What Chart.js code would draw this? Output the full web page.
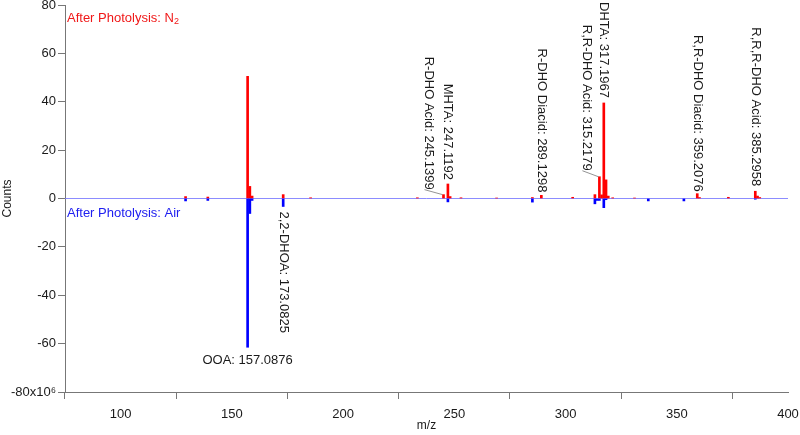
<!DOCTYPE html>
<html><head><meta charset="utf-8">
<script src="https://cdn.jsdelivr.net/npm/chart.js@4.4.0/dist/chart.umd.min.js"></script>
<style>html,body{margin:0;padding:0;background:#fff;}#wrap{width:800px;height:435px;position:relative;}</style>
</head><body><div id="wrap"><canvas id="c"></canvas></div>
<script>
// m/z positions and counts (x10^6)
const mzN2 = [129.2, 139.2, 157.09, 158.09, 159.1, 173.08, 185.4, 233.4, 245.14, 247.12, 248.12, 253.0, 269.0, 285.1, 289.13, 303.2, 313.2, 315.22, 316.2, 317.20, 318.2, 319.2, 321.2, 331.0, 359.21, 360.2, 373.2, 385.30, 386.3, 387.3];
const countsN2 = [0.8, 0.6, 50.5, 5.0, 1.0, 1.6, 0.3, 0.3, 1.6, 6.0, 0.8, 0.3, 0.2, 0.4, 1.3, 0.5, 1.6, 9.0, 1.5, 39.5, 7.7, 1.0, 0.3, 0.2, 2.0, 0.4, 0.5, 3.0, 1.0, 0.4];
const mzAir = [129.2, 139.2, 157.09, 158.09, 159.1, 173.08, 247.12, 285.1, 313.2, 314.2, 315.22, 317.20, 318.2, 337.2, 353.2, 385.3];
const countsAir = [-1.0, -0.8, -61.5, -6.2, -0.8, -3.3, -1.4, -1.5, -2.2, -0.8, -0.8, -3.8, -0.5, -1.0, -1.0, -0.3];
const seriesNames = ['After Photolysis: N', 'After Photolysis: Air'];
const xTicks = [100, 150, 200, 250, 300, 350, 400];
const yTicks = [-80, -60, -40, -20, 0, 20, 40, 60, 80];
const xRange = [75, 400];
const yRange = [-80, 80];
const peakLabels = ['R-DHO Acid: 245.1399', 'MHTA: 247.1192', 'R-DHO Diacid: 289.1298', 'R,R-DHO Acid: 315.2179', 'DHTA: 317.1967', 'R,R-DHO Diacid: 359.2076', 'R,R,R-DHO Acid: 385.2958', '2,2-DHOA: 173.0825', 'OOA: 157.0876'];
const peakLabelMz = [245.14, 247.12, 289.13, 315.22, 317.20, 359.21, 385.30, 173.08, 157.09];
const peakLabelSeries = [0, 0, 0, 0, 0, 0, 0, 1, 1];

// label layout (pixel offsets from the peak tip)
const labelLayout = [
  {mode:'up', dx:-15, dy:-5, leader:true},
  {mode:'up', dx:0, dy:-4},
  {mode:'up', dx:0, dy:-3},
  {mode:'up', dx:-13, dy:-6, leader:true},
  {mode:'up', dx:0, dy:-5},
  {mode:'up', dx:0, dy:-2},
  {mode:'up', dx:0, dy:-5},
  {mode:'down', dx:0, dy:5},
  {mode:'horiz', dx:0, dy:13}
];

const FONT = '"Liberation Sans", Arial, sans-serif';
const mk = (xs, ys) => xs.map((x, i) => ({x: x, y: ys[i]}));

const annot = {
  id: 'annot',
  afterDatasetsDraw(chart) {
    const ctx = chart.ctx, xs = chart.scales.x, ys = chart.scales.y, ca = chart.chartArea;
    ctx.save();
    ctx.font = '13px ' + FONT;
    ctx.fillStyle = '#1a1a1a';
    peakLabels.forEach((txt, i) => {
      const ser = peakLabelSeries[i];
      const xsArr = ser === 0 ? mzN2 : mzAir, ysArr = ser === 0 ? countsN2 : countsAir;
      let k = 0, best = 1e9;
      xsArr.forEach((m, j) => { const d = Math.abs(m - peakLabelMz[i]); if (d < best) { best = d; k = j; } });
      const px = xs.getPixelForValue(xsArr[k]), py = ys.getPixelForValue(ysArr[k]);
      const L = labelLayout[i];
      const tx = px + L.dx, ty = py + L.dy;
      if (L.leader) {
        ctx.save(); ctx.strokeStyle = '#777'; ctx.lineWidth = 0.8;
        ctx.beginPath(); ctx.moveTo(tx - 4, ty); ctx.lineTo(px - 1, py); ctx.stroke(); ctx.restore();
      }
      ctx.save();
      if (L.mode === 'horiz') {
        ctx.textAlign = 'center'; ctx.textBaseline = 'middle';
        ctx.fillText(txt, tx, ty);
      } else {
        ctx.translate(tx, ty); ctx.rotate(Math.PI / 2);
        ctx.textAlign = L.mode === 'up' ? 'right' : 'left'; ctx.textBaseline = 'middle';
        ctx.fillText(txt, 0, 0);
      }
      ctx.restore();
    });
    // series captions
    ctx.textAlign = 'left'; ctx.textBaseline = 'middle';
    ctx.fillStyle = '#f01818';
    ctx.font = '13px ' + FONT;
    const x0 = ca.left + 2, y1 = ca.top + 13;
    ctx.fillText(seriesNames[0], x0, y1);
    const w = ctx.measureText(seriesNames[0]).width;
    ctx.font = '9px ' + FONT;
    ctx.fillText('2', x0 + w, y1 + 4);
    ctx.font = '13px ' + FONT;
    ctx.fillStyle = '#2020f0';
    ctx.fillText(seriesNames[1], x0, ys.getPixelForValue(0) + 15);
    ctx.restore();
  }
};

new Chart(document.getElementById('c'), {
  type: 'bar',
  data: {
    datasets: [
      {type:'line', data: mk(xRange, [0, 0]), borderColor:'rgba(120,120,255,0.85)', borderWidth:1, pointRadius:0, order:3},
      {label: seriesNames[0], data: mk(mzN2, countsN2), backgroundColor:'#ff0000', barThickness:2, grouped:false, order:2},
      {label: seriesNames[1], data: mk(mzAir, countsAir), backgroundColor:'#0000ff', barThickness:2, grouped:false, order:1}
    ]
  },
  options: {
    responsive: true, maintainAspectRatio: false, animation: false,
    devicePixelRatio: 1,
    layout: {padding: {top: 5, right: 12, left: 0, bottom: 0}},
    plugins: {legend: {display: false}, tooltip: {enabled: false}},
    scales: {
      x: {
        type: 'linear', min: xRange[0], max: xRange[1], offset: false,
        afterBuildTicks: s => { s.ticks = xTicks.map(v => ({value: v})); },
        afterFit: s => { s.height = 43; s.paddingLeft = 0; s.paddingRight = 0; },
        grid: {drawOnChartArea: false, drawTicks: true, tickLength: 7, color: '#777'},
        border: {color: '#777', width: 1},
        ticks: {font: {family: FONT, size: 13}, color: '#1a1a1a', padding: 8, maxRotation: 0},
        title: {display: true, text: 'm/z', font: {family: FONT, size: 12}, color: '#1a1a1a', padding: {top: 0, bottom: 2}}
      },
      y: {
        type: 'linear', min: yRange[0], max: yRange[1],
        afterBuildTicks: s => { s.ticks = yTicks.map(v => ({value: v})); },
        afterFit: s => { s.width = 65; s.paddingTop = 0; s.paddingBottom = 0; },
        grid: {drawOnChartArea: false, drawTicks: true, tickLength: 7, color: '#777'},
        border: {color: '#777', width: 1},
        ticks: {font: {family: FONT, size: 13}, color: '#1a1a1a', padding: 2,
          callback: v => v === -80 ? '-80x10\u2076' : String(v)},
        title: {display: true, text: 'Counts', font: {family: FONT, size: 12}, color: '#1a1a1a', padding: {top: 0, bottom: 0}}
      }
    }
  },
  plugins: [annot]
});
</script>
</body></html>
